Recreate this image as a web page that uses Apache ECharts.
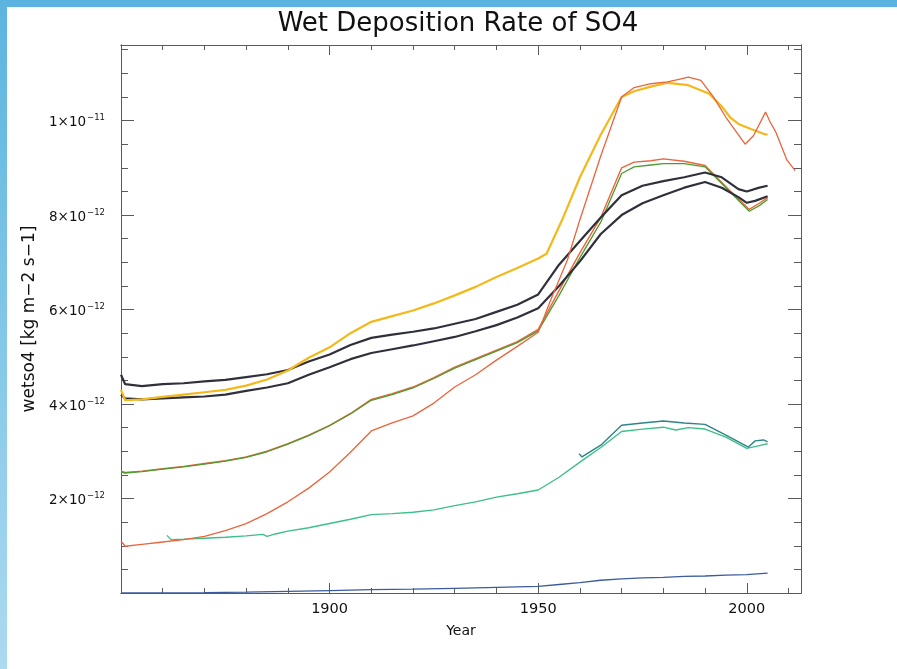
<!DOCTYPE html>
<html>
<head>
<meta charset="utf-8">
<script src="https://cdn.jsdelivr.net/npm/echarts@6/dist/echarts.min.js"></script>
<style>
  html, body { margin: 0; padding: 0; background: #ffffff; }
  #chart { width: 897px; height: 669px; }
</style>
</head>
<body>
<div id="chart"></div>
<script>
// Annual wet deposition of sulfate, values in units of 1e-12 kg m-2 s-1, [year, value]
const blackUpper = [[1850,4.62],[1851,4.42],[1855,4.38],[1860,4.42],[1865,4.44],[1870,4.48],[1875,4.51],[1880,4.57],[1885,4.63],[1890,4.72],[1895,4.9],[1900,5.05],[1905,5.25],[1910,5.4],[1915,5.47],[1920,5.53],[1925,5.6],[1930,5.7],[1935,5.8],[1940,5.95],[1945,6.1],[1950,6.32],[1955,6.95],[1960,7.45],[1965,7.95],[1970,8.42],[1975,8.62],[1980,8.72],[1985,8.8],[1990,8.9],[1994,8.8],[1998,8.55],[2000,8.5],[2003,8.58],[2005,8.62]];
const blackLower = [[1850,4.2],[1851,4.12],[1855,4.1],[1860,4.12],[1865,4.14],[1870,4.16],[1875,4.2],[1880,4.28],[1885,4.35],[1890,4.44],[1895,4.62],[1900,4.78],[1905,4.95],[1910,5.08],[1915,5.16],[1920,5.24],[1925,5.33],[1930,5.42],[1935,5.54],[1940,5.67],[1945,5.83],[1950,6.03],[1955,6.5],[1960,7.02],[1965,7.6],[1970,8.0],[1975,8.25],[1980,8.42],[1985,8.58],[1990,8.7],[1994,8.58],[1998,8.38],[2000,8.26],[2002,8.3],[2005,8.4]];
const yellow = [[1850,4.3],[1851,4.08],[1855,4.1],[1860,4.15],[1865,4.2],[1870,4.25],[1875,4.3],[1880,4.39],[1885,4.52],[1890,4.71],[1895,4.98],[1900,5.2],[1905,5.5],[1910,5.74],[1915,5.86],[1920,5.98],[1925,6.13],[1930,6.3],[1935,6.48],[1940,6.69],[1945,6.88],[1950,7.08],[1952,7.18],[1956,7.95],[1960,8.8],[1965,9.7],[1970,10.5],[1973,10.62],[1977,10.72],[1981,10.8],[1986,10.75],[1991,10.57],[1994,10.3],[1996,10.07],[1998,9.93],[2001,9.82],[2004,9.72],[2005,9.7]];
const orangeSteep = [[1850,1.1],[1851,0.99],[1855,1.03],[1860,1.08],[1865,1.13],[1870,1.2],[1875,1.32],[1880,1.47],[1885,1.68],[1890,1.93],[1895,2.22],[1900,2.56],[1905,2.98],[1910,3.43],[1915,3.6],[1920,3.75],[1925,4.02],[1930,4.36],[1935,4.62],[1940,4.93],[1945,5.22],[1950,5.52],[1953,6.2],[1957,7.05],[1960,7.9],[1965,9.25],[1970,10.5],[1973,10.7],[1977,10.78],[1981,10.82],[1984,10.88],[1986,10.92],[1989,10.85],[1992,10.5],[1995,10.07],[1999.6,9.5],[2001.6,9.68],[2004.5,10.18],[2005.6,9.97],[2007,9.75],[2009.6,9.17],[2011.6,8.94]];
const orangeMid = [[1850,2.58],[1851,2.55],[1855,2.58],[1860,2.63],[1865,2.68],[1870,2.74],[1875,2.8],[1880,2.88],[1885,3.0],[1890,3.16],[1895,3.34],[1900,3.55],[1905,3.8],[1910,4.1],[1915,4.22],[1920,4.36],[1925,4.56],[1930,4.78],[1935,4.96],[1940,5.14],[1945,5.32],[1950,5.58],[1955,6.4],[1960,7.2],[1965,7.95],[1970,9.0],[1973,9.12],[1977,9.15],[1980,9.19],[1985,9.14],[1990,9.05],[1995,8.6],[2000.6,8.12],[2003,8.25],[2005,8.37]];
const green = [[1850,2.56],[1851,2.54],[1855,2.57],[1860,2.62],[1865,2.67],[1870,2.73],[1875,2.79],[1880,2.87],[1885,2.99],[1890,3.15],[1895,3.33],[1900,3.54],[1905,3.79],[1910,4.08],[1915,4.2],[1920,4.34],[1925,4.54],[1930,4.76],[1935,4.94],[1940,5.12],[1945,5.3],[1950,5.55],[1955,6.3],[1960,7.1],[1965,7.85],[1970,8.88],[1973,9.02],[1977,9.06],[1980,9.09],[1985,9.09],[1990,9.02],[1995,8.58],[2000.6,8.08],[2003,8.2],[2005,8.33]];
const lightGreen = [[1861,1.22],[1862,1.13],[1865,1.14],[1870,1.16],[1875,1.18],[1880,1.21],[1884,1.24],[1885,1.2],[1887,1.25],[1890,1.31],[1895,1.38],[1900,1.47],[1905,1.56],[1910,1.66],[1915,1.68],[1920,1.71],[1925,1.76],[1930,1.85],[1935,1.93],[1940,2.03],[1945,2.1],[1950,2.18],[1955,2.45],[1960,2.77],[1965,3.08],[1970,3.42],[1975,3.47],[1980,3.51],[1983,3.45],[1986,3.5],[1990,3.47],[1995,3.3],[2000,3.06],[2003,3.12],[2005,3.16]];
const darkTeal = [[1959.8,2.95],[1960.5,2.88],[1965,3.13],[1970,3.55],[1975,3.6],[1980,3.64],[1985,3.6],[1990,3.57],[1995,3.34],[2000.4,3.09],[2002,3.22],[2004,3.24],[2005,3.2]];
const blue = [[1850,0.0],[1870,0.01],[1880,0.02],[1890,0.035],[1900,0.05],[1910,0.07],[1920,0.08],[1930,0.1],[1940,0.12],[1950,0.14],[1955,0.18],[1960,0.22],[1965,0.27],[1970,0.3],[1975,0.32],[1980,0.33],[1985,0.35],[1990,0.36],[1995,0.38],[2000,0.39],[2005,0.42]];

// Axis ranges and tick steps (y in units of 1e-12)
const yearRange = [1850, 2013];
const yearMajor = 50, yearMinor = 10;
const valueRange = [0, 11.6];
const valueMajor = 2, valueMinor = 0.5;
const valueExponent = -12;

const FRAME = '#5a5a5a';
const FONT = 'DejaVu Sans';

function sciLabel(v) {
  if (v <= 0 || Math.abs(v / valueMajor - Math.round(v / valueMajor)) > 1e-6) return '';
  let e = Math.floor(Math.log10(v) + 1e-9);
  const m = Math.round(v / Math.pow(10, e));
  e += valueExponent;
  return '{b|' + m + '×10}{s|\u2212' + (-e) + '}';
}
function yearLabel(v) {
  return (v > yearRange[0] && v % yearMajor === 0) ? String(v) : '';
}

function xAxisDef(position, interval, tickLen, withLabels) {
  return {
    type: 'value', position: position, min: yearRange[0], max: yearRange[1], interval: interval,
    axisLine: { show: true, onZero: false, lineStyle: { color: FRAME, width: 1 } },
    axisTick: { show: true, inside: true, length: tickLen, lineStyle: { color: FRAME, width: 1 } },
    axisLabel: withLabels ? { show: true, formatter: yearLabel, margin: 9, fontSize: 14.5, color: '#111', fontFamily: FONT } : { show: false },
    splitLine: { show: false },
    name: withLabels ? 'Year' : '', nameLocation: 'middle', nameGap: 31,
    nameTextStyle: { fontSize: 14, color: '#111', fontFamily: FONT }
  };
}
function yAxisDef(position, interval, tickLen, withLabels) {
  return {
    type: 'value', position: position, min: valueRange[0], max: valueRange[1], interval: interval,
    axisLine: { show: true, onZero: false, lineStyle: { color: FRAME, width: 1 } },
    axisTick: { show: true, inside: true, length: tickLen, lineStyle: { color: FRAME, width: 1 } },
    axisLabel: withLabels ? {
      show: true, formatter: sciLabel, margin: 16, color: '#111',
      rich: {
        b: { fontSize: 13.5, fontFamily: FONT, color: '#111', verticalAlign: 'bottom', lineHeight: 18 },
        s: { fontSize: 8.5, fontFamily: FONT, color: '#111', verticalAlign: 'bottom', lineHeight: 18, padding: [0, 0, 7, 1] }
      }
    } : { show: false },
    splitLine: { show: false },
    name: withLabels ? 'wetso4 [kg m\u22122 s\u22121]' : '', nameLocation: 'middle', nameGap: 78, nameRotate: 90,
    nameTextStyle: { fontSize: 17, color: '#111', fontFamily: FONT }
  };
}

function line(data, color, width, z) {
  return {
    type: 'line', data: data, xAxisIndex: 0, yAxisIndex: 0, showSymbol: false, symbol: 'none',
    lineStyle: { color: color, width: width }, z: z, animation: false, silent: true
  };
}

const chart = echarts.init(document.getElementById('chart'), null, { renderer: 'canvas' });
chart.setOption({
  backgroundColor: '#ffffff',
  animation: false,
  title: {
    text: 'Wet Deposition Rate of SO4', left: 453, top: 6, textAlign: 'center',
    textStyle: { fontFamily: 'DejaVu Sans', fontSize: 26, fontWeight: 'normal', color: '#111' }
  },
  grid: { left: 121, top: 45, width: 680, height: 548, containLabel: false },
  xAxis: [
    xAxisDef('bottom', yearMajor, 10, true),
    xAxisDef('bottom', yearMinor, 5, false),
    xAxisDef('top', yearMajor, 10, false),
    xAxisDef('top', yearMinor, 5, false)
  ],
  yAxis: [
    yAxisDef('left', valueMajor, 13, true),
    yAxisDef('left', valueMinor, 7, false),
    yAxisDef('right', valueMajor, 13, false),
    yAxisDef('right', valueMinor, 7, false)
  ],
  graphic: [
    { type: 'rect', left: 0, top: 0, shape: { width: 897, height: 7 }, style: { fill: '#5bb4df' }, silent: true },
    {
      type: 'rect', left: 0, top: 0, shape: { width: 7, height: 669 }, silent: true,
      style: { fill: new echarts.graphic.LinearGradient(0, 0, 0, 1, [{ offset: 0, color: '#5bb4df' }, { offset: 1, color: '#acdaf0' }]) }
    }
  ],
  series: [
    line(blue, '#3b5c9e', 1.3, 2),
    line(lightGreen, '#3dbf8a', 1.4, 3),
    line(darkTeal, '#2e8585', 1.4, 4),
    line(orangeMid, '#e8663c', 1.4, 5),
    line(green, '#4e9b30', 1.3, 6),
    line(blackLower, '#30303c', 2.2, 7),
    line(blackUpper, '#30303c', 2.2, 8),
    line(yellow, '#f3b81a', 2.2, 9),
    line(orangeSteep, '#ea653b', 1.3, 10)
  ]
});
</script>
</body>
</html>
